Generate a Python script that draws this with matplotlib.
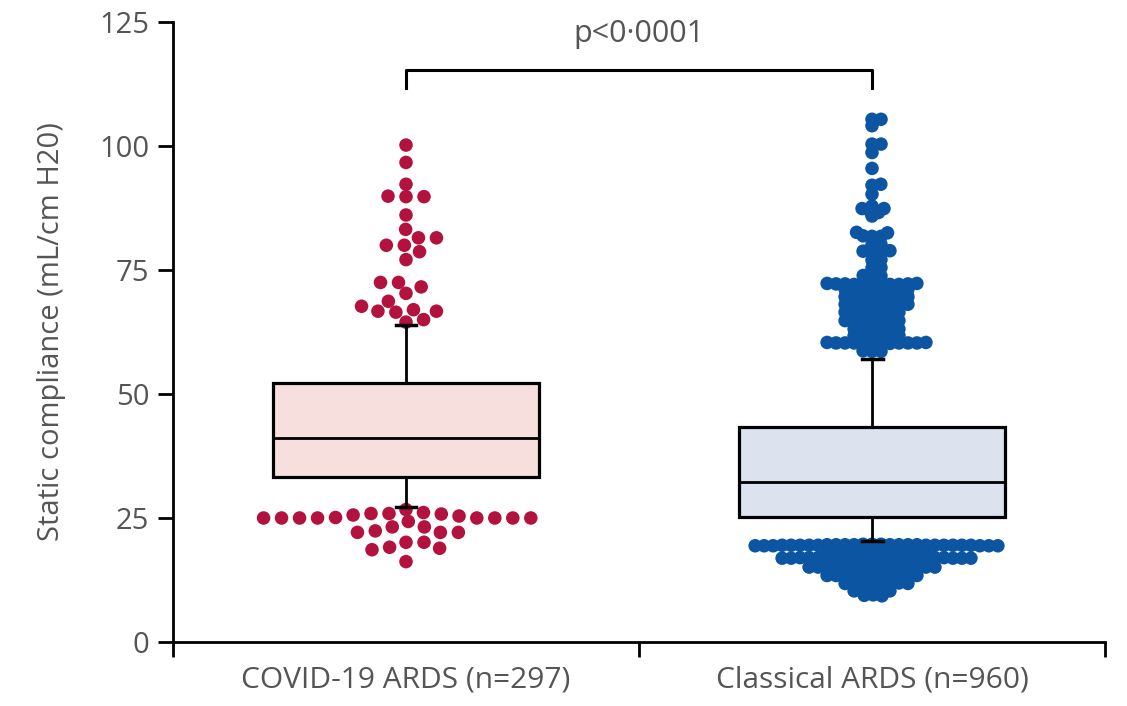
"""
compliance_boxplot.py
Static compliance, COVID-19 ARDS vs classical ARDS (box 10-90 pct + swarm of outliers)
"""

import numpy as np
import matplotlib
matplotlib.use('Agg')
import matplotlib.pyplot as plt

categories = ["COVID-19 ARDS (n=297)", "Classical ARDS (n=960)"]
box_q1 = [33.3, 25.2]
box_median = [41.1, 32.3]
box_q3 = [52.3, 43.4]
whisker_low = [27.3, 20.4]
whisker_high = [64.0, 57.0]

covid_high = [100.2, 96.7, 92.3, 89.8, 89.9, 89.8, 86.1, 83.2, 81.5, 81.5,
              80.0, 80.0, 78.7, 77.1, 72.5, 72.5, 71.6, 70.3, 68.7, 67.7,
              67.0, 66.7, 66.5, 66.7, 65.0, 64.5]
covid_low = [26.1, 25.6, 25.8, 26.7, 24.3, 25.0, 25.0, 25.0, 25.0, 25.0,
             25.0, 25.1, 25.0, 25.0, 25.9, 25.9, 25.4, 23.2, 23.2, 22.1,
             22.1, 22.1, 22.4, 20.1, 20.1, 18.9, 18.6, 19.1, 16.2]

classical_high = [105.4, 105.4, 104.1, 100.4, 100.4, 98.7, 95.5, 92.1, 92.3, 90.3,
                  87.9, 87.4, 87.4, 86.9, 86.6, 85.9,
                  82.6, 82.5, 81.8, 81.8, 81.9, 80.2, 80.1,
                  78.8, 78.8, 78.7, 78.9, 77.1, 77.0, 75.5, 75.4, 73.8, 73.7, 73.9,
                  72.3, 72.2, 72.1, 72.1, 72.0, 72.2, 72.1, 72.3, 72.0, 72.2, 72.1,
                  70.9, 71.0, 71.1, 70.8, 71.0, 70.9, 71.1, 71.0,
                  69.5, 69.6, 69.4, 69.5, 69.6, 69.4, 69.5, 69.6,
                  68.0, 67.9, 68.1, 68.0, 67.9, 68.0, 68.1, 67.9,
                  66.4, 66.3, 66.5, 66.4, 66.4, 66.3, 66.5,
                  64.8, 64.7, 64.6, 64.8, 64.7, 64.6, 64.8,
                  63.1, 63.0, 62.9, 63.1, 63.0, 62.9,
                  61.6, 61.7, 61.6, 61.7, 61.8, 61.6,
                  60.3, 60.3, 60.2, 60.3, 60.4, 60.2, 60.3, 60.2, 60.3, 60.4, 60.3, 60.2,
                  58.7, 58.6, 58.6]
classical_low = [19.6, 19.5, 19.6, 19.4, 19.5, 19.7, 19.5, 19.4, 19.6, 19.5,
                 19.5, 19.6, 19.4, 19.5, 19.7, 19.5, 19.6, 19.4, 19.5, 19.6,
                 19.5, 19.4, 19.6, 19.5, 19.7, 19.5, 19.4, 19.6,
                 18.3, 18.4, 18.2, 18.3, 18.4, 18.3, 18.2, 18.3, 18.4, 18.3, 18.2, 18.3,
                 17.0, 17.1, 16.9, 17.0, 17.1, 17.0, 16.9, 17.0, 17.1, 17.0, 16.9,
                 17.0, 17.1, 17.0, 16.9, 17.0, 17.1, 17.0, 16.9, 17.0, 17.1, 17.0,
                 15.2, 15.3, 15.1, 15.2, 15.3, 15.2, 15.1, 15.2, 15.3, 15.2, 15.1,
                 15.2, 15.3, 15.2, 15.1,
                 13.5, 13.6, 13.4, 13.5, 13.6, 13.5, 13.4, 13.5, 13.6, 13.5, 13.4,
                 11.9, 12.0, 11.8, 11.9, 12.0, 11.9, 11.8, 11.9,
                 10.4, 10.3, 10.5, 10.3, 10.4,
                 9.4, 9.3, 9.5]

p_text = "p<0\u00b70001"

box_fills = ["#f6dfdc", "#dde2ef"]
dot_colors = ["#b3123e", "#0b55a3"]
text_grey = "#555555"


def swarm(vals_px, center_px, sx, sy):
    """beeswarm offsets, elliptical collision (sx horizontal, sy vertical), pixels"""
    order = np.argsort(np.abs(np.asarray(vals_px) - center_px), kind='stable')
    px, py = [], []
    out = np.zeros(len(vals_px))
    for i in order:
        y = vals_px[i]
        cands = [0.0]
        for x0, y0 in zip(px, py):
            dy = abs(y0 - y) / sy
            if dy < 1:
                dx = sx * np.sqrt(1 - dy ** 2)
                cands += [x0 + dx, x0 - dx]
        cands.sort(key=abs)
        for c in cands:
            if all(((c - x0) / sx) ** 2 + ((y - y0) / sy) ** 2 >= 1 - 1e-6
                   for x0, y0 in zip(px, py)):
                break
        out[i] = c
        px.append(c)
        py.append(y)
    return out


plt.rcParams['font.family'] = ['Open Sans', 'DejaVu Sans']

fig = plt.figure(figsize=(11.27, 7.06), dpi=100)
ax = fig.add_axes([0.1535, 0.0907, 0.827, 0.878])
ax.set_xlim(0, 2)
ax.set_ylim(0, 125)

positions = [0.5, 1.5]
stats = []
for i in range(2):
    stats.append(dict(med=box_median[i], q1=box_q1[i], q3=box_q3[i],
                      whislo=whisker_low[i], whishi=whisker_high[i], fliers=[]))
bp = ax.bxp(stats, positions=positions, widths=0.57, patch_artist=True,
            showfliers=False, manage_ticks=False, capwidths=0.045,
            boxprops=dict(edgecolor='black', linewidth=2.3),
            medianprops=dict(color='black', linewidth=2),
            whiskerprops=dict(color='black', linewidth=2),
            capprops=dict(color='black', linewidth=2.5))
for patch, c in zip(bp['boxes'], box_fills):
    patch.set_facecolor(c)
for k in bp:
    for art in bp[k]:
        art.set_zorder(3)

# pixels per data unit
bbox = ax.get_position()
ppx = bbox.width * fig.get_figwidth() * fig.dpi / 2.0
ppy = bbox.height * fig.get_figheight() * fig.dpi / 125.0

groups = [(covid_high + covid_low, 18, 12), (classical_high + classical_low, 9, 5)]
for i, (vals, sx, sy) in enumerate(groups):
    vals = np.array(vals)
    offs = swarm(vals * ppy, box_median[i] * ppy, sx, sy)
    ax.scatter(positions[i] + offs / ppx, vals, s=95, color=dot_colors[i],
               edgecolors='none', zorder=2, clip_on=False)

# significance bracket
ax.plot([positions[0], positions[0], positions[1], positions[1]],
        [111.8, 115.4, 115.4, 111.8], color='black', lw=2.2, clip_on=False)
ax.text(np.mean(positions), 122.6, p_text, ha='center', va='center',
        fontsize=22, color=text_grey)

for s in ['top', 'right']:
    ax.spines[s].set_visible(False)
for s in ['left', 'bottom']:
    ax.spines[s].set_linewidth(2)

ax.set_yticks([0, 25, 50, 75, 100, 125])
ax.tick_params(axis='y', length=11, width=2, labelsize=21, labelcolor=text_grey, pad=6)
ax.set_xticks([0, 1, 2])
ax.set_xticklabels([])
ax.tick_params(axis='x', which='major', length=11, width=2)
ax.set_xticks(positions, minor=True)
ax.set_xticklabels(categories, minor=True)
ax.tick_params(axis='x', which='minor', length=0, pad=17, labelsize=21.5, labelcolor=text_grey)

ax.set_ylabel("Static compliance (mL/cm H20)", fontsize=21, color=text_grey, labelpad=24)

fig.savefig("out.png", dpi=100)
plt.close(fig)
